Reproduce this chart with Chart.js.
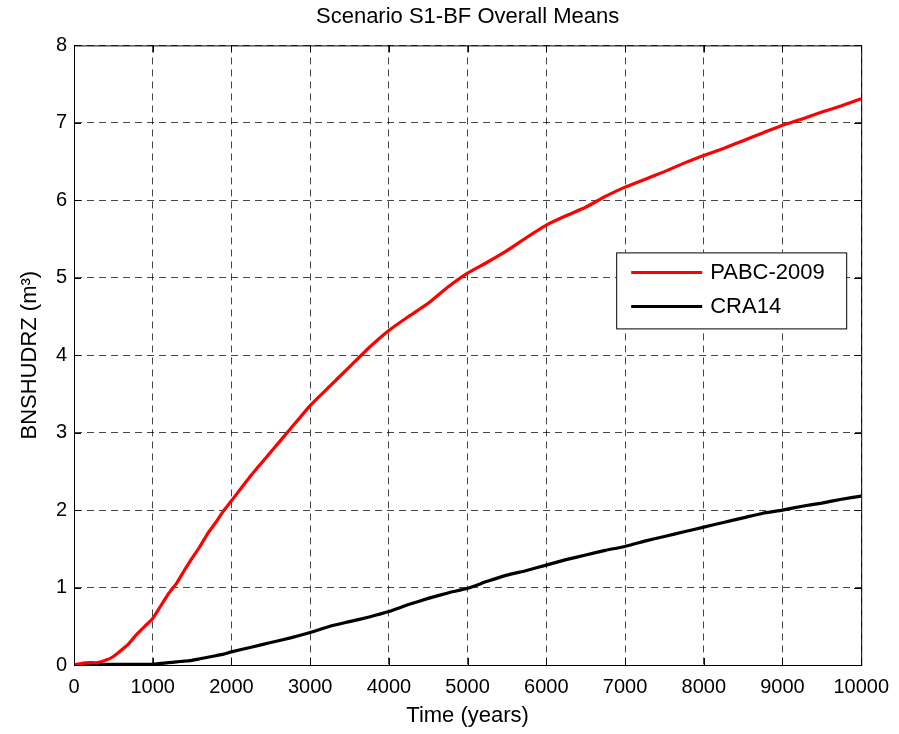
<!DOCTYPE html>
<html>
<head>
<meta charset="utf-8">
<title>Scenario S1-BF Overall Means</title>
<script src="https://cdn.jsdelivr.net/npm/chart.js@4.4.1/dist/chart.umd.min.js"></script>
<style>
    html, body { margin: 0; padding: 0; background: #fff; }
    canvas { display: block; }
</style>
</head>
<body>
<canvas id="meansChart" width="899" height="734"></canvas>
<script>
    /* ===================================================
       DATOS
    =================================================== */

    // Tiempo (años)
    const years = [
        0, 100, 200, 300, 400, 500, 600, 700, 800, 900,
        1000, 1100, 1200, 1300, 1400, 1500, 1600, 1700, 1800, 1900,
        2000, 2250, 2500, 2750, 3000, 3250, 3500, 3750, 4000, 4250,
        4500, 4750, 5000, 5250, 5500, 5750, 6000, 6250, 6500, 6750,
        7000, 7250, 7500, 7750, 8000, 8250, 8500, 8750, 9000, 9250,
        9500, 9750, 10000
    ];

    // BNSHUDRZ medio, PABC-2009
    const pabc2009 = [
        0, 0.02, 0.03, 0.03, 0.06, 0.11, 0.19, 0.28, 0.40, 0.50,
        0.60, 0.76, 0.92, 1.05, 1.22, 1.38, 1.53, 1.70, 1.84, 1.99,
        2.12, 2.45, 2.75, 3.05, 3.35, 3.60, 3.85, 4.10, 4.32, 4.50,
        4.67, 4.88, 5.06, 5.20, 5.35, 5.52, 5.68, 5.80, 5.91, 6.05,
        6.17, 6.27, 6.37, 6.48, 6.58, 6.67, 6.77, 6.87, 6.97, 7.05,
        7.14, 7.22, 7.31
    ];

    // BNSHUDRZ medio, CRA14
    const cra14 = [
        0, 0.01, 0.01, 0.01, 0.01, 0.01, 0.01, 0.01, 0.01, 0.01,
        0.01, 0.02, 0.03, 0.04, 0.05, 0.06, 0.08, 0.10, 0.12, 0.14,
        0.17, 0.23, 0.29, 0.35, 0.42, 0.50, 0.56, 0.62, 0.69, 0.78,
        0.86, 0.93, 0.99, 1.08, 1.16, 1.22, 1.29, 1.36, 1.42, 1.48,
        1.53, 1.60, 1.66, 1.72, 1.78, 1.84, 1.90, 1.96, 2.00, 2.05,
        2.09, 2.14, 2.18
    ];

    const seriesNames = ["PABC-2009", "CRA14"];
    const seriesColors = ["#ff0000", "#000000"];

    const FONT = "'Liberation Sans', Arial, Helvetica, sans-serif";

    function toPoints(xs, ys) {
        return xs.map((x, i) => ({ x: x, y: ys[i] }));
    }

    /* ===================================================
       PLUGINS
    =================================================== */

    // Marco completo de los ejes con marcas interiores
    const framePlugin = {
        id: "frame",
        afterDatasetsDraw(chart) {
            const { ctx, chartArea: a, scales } = chart;
            const len = 7;
            ctx.save();
            ctx.strokeStyle = "#000";
            ctx.lineWidth = 1;
            ctx.beginPath();
            scales.x.ticks.forEach((t) => {
                const px = Math.round(scales.x.getPixelForValue(t.value)) + 0.5;
                ctx.moveTo(px, a.bottom); ctx.lineTo(px, a.bottom - len);
                ctx.moveTo(px, a.top); ctx.lineTo(px, a.top + len);
            });
            scales.y.ticks.forEach((t) => {
                const py = Math.round(scales.y.getPixelForValue(t.value)) + 0.5;
                ctx.moveTo(a.left, py); ctx.lineTo(a.left + len, py);
                ctx.moveTo(a.right, py); ctx.lineTo(a.right - len, py);
            });
            ctx.stroke();
            ctx.strokeRect(a.left + 0.5, a.top + 0.5, a.right - a.left, a.bottom - a.top);
            ctx.restore();
        }
    };

    // Leyenda dentro del área del gráfico
    const boxLegendPlugin = {
        id: "boxLegend",
        afterDraw(chart) {
            const { ctx, chartArea: a } = chart;
            const w = 230, h = 76;
            const left = a.right - 245;
            const top = a.top + 207;
            ctx.save();
            ctx.fillStyle = "#fff";
            ctx.fillRect(left, top, w, h);
            ctx.strokeStyle = "#000";
            ctx.lineWidth = 1;
            ctx.strokeRect(left + 0.5, top + 0.5, w, h);
            ctx.font = "22px " + FONT;
            ctx.textBaseline = "middle";
            chart.data.datasets.forEach((ds, i) => {
                const y = top + 20 + i * 34;
                ctx.strokeStyle = ds.borderColor;
                ctx.lineWidth = 3;
                ctx.beginPath();
                ctx.moveTo(left + 15, y);
                ctx.lineTo(left + 86, y);
                ctx.stroke();
                ctx.fillStyle = "#000";
                ctx.fillText(ds.label, left + 94, y + 1);
            });
            ctx.restore();
        }
    };

    /* ===================================================
       GRÁFICO
    =================================================== */

    const gridStyle = {
        color: "rgba(0,0,0,0.72)",
        lineWidth: 1,
        drawTicks: false
    };

    const plainTick = (value) => String(value);

    new Chart(document.getElementById("meansChart").getContext("2d"), {
        type: "line",
        data: {
            datasets: [
                {
                    label: seriesNames[0],
                    data: toPoints(years, pabc2009),
                    borderColor: seriesColors[0],
                    borderWidth: 3.2,
                    pointRadius: 0,
                    tension: 0.15
                },
                {
                    label: seriesNames[1],
                    data: toPoints(years, cra14),
                    borderColor: seriesColors[1],
                    borderWidth: 3.2,
                    pointRadius: 0,
                    tension: 0.15
                }
            ]
        },
        options: {
            responsive: false,
            animation: false,
            layout: { padding: { left: 0, right: 37, top: 0, bottom: 0 } },
            plugins: {
                legend: { display: false },
                tooltip: { enabled: false },
                title: {
                    display: true,
                    text: "Scenario S1-BF Overall Means",
                    color: "#000",
                    fullSize: false,
                    font: { family: FONT, size: 22, weight: "normal", lineHeight: 1.2 },
                    padding: { top: 4, bottom: 15 }
                }
            },
            scales: {
                x: {
                    type: "linear",
                    min: 0,
                    max: 10000,
                    ticks: {
                        stepSize: 1000,
                        color: "#000",
                        padding: 10,
                        maxRotation: 0,
                        callback: plainTick,
                        font: { family: FONT, size: 20 }
                    },
                    grid: gridStyle,
                    border: { display: true, color: "#000", dash: [7, 5] },
                    title: {
                        display: true,
                        text: "Time (years)",
                        color: "#000",
                        font: { family: FONT, size: 22 },
                        padding: { top: 0, bottom: 5 }
                    },
                    afterFit(scale) { scale.height = 69; }
                },
                y: {
                    min: 0,
                    max: 8,
                    ticks: {
                        stepSize: 1,
                        color: "#000",
                        padding: 7,
                        callback: plainTick,
                        font: { family: FONT, size: 20 }
                    },
                    grid: gridStyle,
                    border: { display: true, color: "#000", dash: [7, 5] },
                    title: {
                        display: true,
                        text: "BNSHUDRZ (m³)",
                        color: "#000",
                        font: { family: FONT, size: 22 },
                        padding: { top: 17, bottom: 0 }
                    },
                    afterFit(scale) { scale.width = 74; }
                }
            }
        },
        plugins: [framePlugin, boxLegendPlugin]
    });
</script>
</body>
</html>
